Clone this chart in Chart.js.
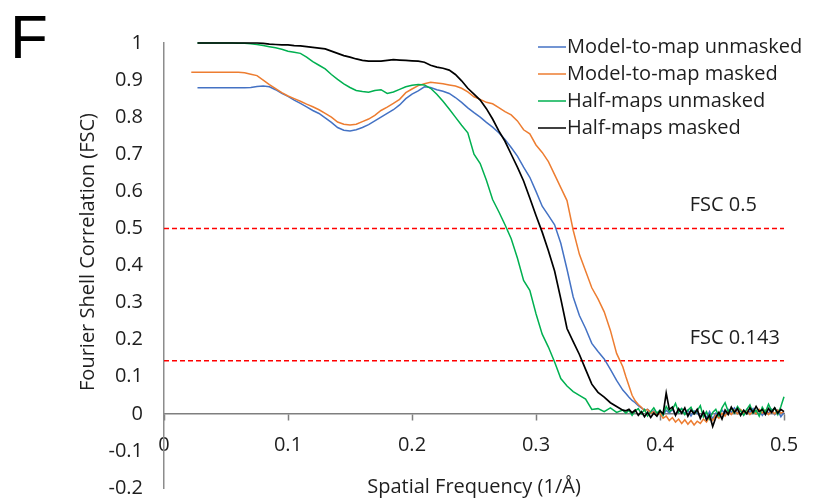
<!DOCTYPE html>
<html><head><meta charset="utf-8">
<script src="https://cdn.jsdelivr.net/npm/chart.js@4.4.0/dist/chart.umd.min.js"></script>
<style>html,body{margin:0;padding:0;background:#fff}#wrap{position:relative;width:823px;height:502px}</style>
</head><body><div id="wrap"><canvas id="c" width="823" height="502"></canvas></div>
<script>
const freq = [0.022, 0.027, 0.030, 0.035, 0.040, 0.045, 0.050, 0.055, 0.060, 0.065,
 0.070, 0.075, 0.080, 0.085, 0.090, 0.095, 0.100, 0.105, 0.110, 0.115,
 0.120, 0.125, 0.130, 0.135, 0.140, 0.145, 0.150, 0.155, 0.160, 0.165,
 0.170, 0.175, 0.180, 0.185, 0.190, 0.195, 0.200, 0.205, 0.210, 0.215,
 0.220, 0.225, 0.230, 0.235, 0.240, 0.245, 0.250, 0.255, 0.260, 0.265,
 0.270, 0.275, 0.280, 0.285, 0.290, 0.295, 0.300, 0.305, 0.310, 0.315,
 0.320, 0.325, 0.330, 0.335, 0.340, 0.345, 0.350, 0.355, 0.360, 0.365,
 0.370,
 0.3725, 0.375, 0.3775, 0.380, 0.3825, 0.385, 0.3875, 0.390, 0.3925, 0.395,
 0.3975, 0.400, 0.4025, 0.405, 0.4075, 0.410, 0.4125, 0.415, 0.4175, 0.420,
 0.4225, 0.425, 0.4275, 0.430, 0.4325, 0.435, 0.4375, 0.440, 0.4425, 0.445,
 0.4475, 0.450, 0.4525, 0.455, 0.4575, 0.460, 0.4625, 0.465, 0.4675, 0.470,
 0.4725, 0.475, 0.4775, 0.480, 0.4825, 0.485, 0.4875, 0.490, 0.4925, 0.495,
 0.4975, 0.500];

const modelUnmasked = [null, 0.879, 0.879, 0.879, 0.879, 0.879, 0.879, 0.879, 0.879, 0.879,
 0.880, 0.883, 0.884, 0.882, 0.874, 0.864, 0.856, 0.846, 0.837, 0.828,
 0.818, 0.810, 0.798, 0.786, 0.772, 0.765, 0.763, 0.766, 0.772, 0.780,
 0.790, 0.800, 0.810, 0.820, 0.833, 0.850, 0.862, 0.871, 0.882, 0.880,
 0.874, 0.870, 0.864, 0.853, 0.840, 0.825, 0.812, 0.800, 0.786, 0.773,
 0.758, 0.740, 0.718, 0.695, 0.665, 0.638, 0.600, 0.560, 0.535, 0.510,
 0.460, 0.390, 0.315, 0.265, 0.230, 0.190, 0.168, 0.148, 0.120, 0.090,
 0.064,
 0.055, 0.045, 0.036, 0.030, 0.022, 0.016, 0.010, 0.012, 0.004, 0.008,
 0.000, 0.006, -0.004, 0.010, 0.002, 0.012, -0.002, 0.008, 0.014, 0.000,
 0.010, -0.006, 0.008, 0.002, -0.008, 0.004, -0.010, 0.006, -0.014, 0.002,
 -0.004, 0.010, 0.000, 0.012, 0.004, 0.016, 0.002, 0.010, -0.002, 0.012,
 0.004, 0.014, 0.000, 0.010, -0.004, 0.008, 0.002, 0.012, -0.002, 0.010,
 -0.008, 0.004];

const modelMasked = [0.921, 0.921, 0.921, 0.921, 0.921, 0.921, 0.921, 0.921, 0.921, 0.920,
 0.916, 0.912, 0.900, 0.888, 0.877, 0.866, 0.857, 0.850, 0.843, 0.835,
 0.828, 0.820, 0.810, 0.800, 0.787, 0.781, 0.779, 0.781, 0.788, 0.795,
 0.805, 0.818, 0.827, 0.837, 0.848, 0.866, 0.876, 0.885, 0.890, 0.894,
 0.892, 0.890, 0.887, 0.884, 0.878, 0.868, 0.855, 0.848, 0.840, 0.836,
 0.826, 0.815, 0.806, 0.790, 0.766, 0.755, 0.725, 0.705, 0.680, 0.645,
 0.610, 0.575, 0.495, 0.430, 0.385, 0.340, 0.310, 0.275, 0.225, 0.163,
 0.127,
 0.100, 0.075, 0.050, 0.035, 0.025, 0.018, 0.008, 0.012, 0.002, 0.006,
 -0.004, 0.002, -0.012, -0.006, -0.018, -0.010, -0.022, -0.014, -0.026, -0.016,
 -0.028, -0.018, -0.030, -0.020, -0.026, -0.014, -0.022, -0.008, -0.018, -0.004,
 -0.012, 0.002, -0.006, 0.008, -0.002, 0.010, 0.000, 0.012, 0.002, 0.010,
 -0.002, 0.008, 0.000, 0.012, 0.002, 0.010, -0.002, 0.008, 0.000, 0.010,
 0.002, 0.006];

const halfUnmasked = [null, 1.000, 1.000, 1.000, 1.000, 1.000, 1.000, 1.000, 0.999, 0.999,
 0.998, 0.996, 0.993, 0.990, 0.987, 0.983, 0.978, 0.975, 0.972, 0.962,
 0.950, 0.940, 0.930, 0.915, 0.902, 0.890, 0.880, 0.872, 0.869, 0.867,
 0.872, 0.874, 0.864, 0.868, 0.875, 0.882, 0.886, 0.888, 0.887, 0.878,
 0.862, 0.843, 0.822, 0.800, 0.778, 0.758, 0.700, 0.675, 0.630, 0.578,
 0.545, 0.510, 0.472, 0.420, 0.360, 0.333, 0.270, 0.215, 0.180, 0.140,
 0.095, 0.075, 0.060, 0.050, 0.040, 0.012, 0.014, 0.006, 0.016, 0.004,
 0.010,
 0.002, 0.010, -0.004, 0.008, 0.014, 0.000, 0.012, -0.006, 0.006, 0.016,
 0.002, 0.010, -0.004, 0.020, 0.006, 0.012, 0.028, 0.004, 0.014, -0.002,
 0.010, 0.018, 0.000, 0.008, 0.022, -0.008, 0.006, -0.014, 0.004, 0.012,
 -0.006, 0.016, 0.030, 0.006, 0.014, 0.002, 0.020, 0.008, -0.004, 0.012,
 0.024, 0.002, 0.010, -0.006, 0.018, 0.004, 0.026, 0.008, 0.016, -0.002,
 0.020, 0.046];

const halfMasked = [null, 1.000, 1.000, 1.000, 1.000, 1.000, 1.000, 1.000, 1.000, 1.000,
 1.000, 1.000, 0.999, 0.997, 0.996, 0.995, 0.995, 0.993, 0.992, 0.990,
 0.988, 0.986, 0.984, 0.978, 0.972, 0.966, 0.962, 0.957, 0.953, 0.951,
 0.951, 0.951, 0.953, 0.955, 0.954, 0.953, 0.952, 0.951, 0.948, 0.940,
 0.935, 0.932, 0.927, 0.915, 0.898, 0.878, 0.862, 0.846, 0.823, 0.795,
 0.763, 0.735, 0.700, 0.665, 0.628, 0.582, 0.535, 0.490, 0.440, 0.385,
 0.310, 0.230, 0.195, 0.160, 0.120, 0.080, 0.058, 0.045, 0.030, 0.020,
 0.010,
 0.008, 0.012, 0.003, 0.010, -0.004, 0.006, -0.008, 0.004, -0.010, 0.002,
 -0.006, 0.008, 0.000, 0.056, 0.012, 0.018, -0.004, 0.014, 0.002, 0.016,
 -0.006, 0.010, 0.000, 0.012, -0.012, 0.006, -0.016, -0.004, -0.034, -0.010,
 0.004, -0.014, 0.010, -0.002, 0.018, 0.004, 0.014, -0.004, 0.010, 0.000,
 0.016, 0.004, 0.020, 0.006, 0.012, -0.002, 0.014, 0.004, 0.016, 0.002,
 0.012, 0.006];

const seriesLabels = ['Model-to-map unmasked', 'Model-to-map masked', 'Half-maps unmasked', 'Half-maps masked'];
const seriesColors = ['#4472C4', '#ED7D31', '#00B050', '#000000'];
const thresholdValues = [0.5, 0.143];
const thresholdLabels = ['FSC 0.5', 'FSC 0.143'];
const xRange = [0, 0.5];
const yRange = [-0.2, 1];

const TEXT = '#1e1e1e';
const FONT = '"Open Sans"';
Chart.defaults.font.family = FONT;
Chart.defaults.font.size = 20;
Chart.defaults.color = TEXT;

function pts(vals) { return freq.map((f, i) => ({x: f, y: vals[i]})); }
const seriesData = [modelUnmasked, modelMasked, halfUnmasked, halfMasked];
const orders = [3, 2, 1, 0];

const datasets = seriesData.map((v, i) => ({
  label: seriesLabels[i], data: pts(v), borderColor: seriesColors[i],
  borderWidth: i === 3 ? 1.7 : 1.5, pointRadius: 0, tension: 0, order: orders[i], clip: false
}));
thresholdValues.forEach((t, i) => datasets.push({
  label: thresholdLabels[i], data: [{x: xRange[0], y: t}, {x: xRange[1], y: t}],
  borderColor: '#FF0000', borderWidth: 1.5, borderDash: [5, 3], pointRadius: 0, order: 10, isThreshold: true
}));

const fmt = v => String(parseFloat(Number(v).toFixed(3)) || 0);

const decor = {
  id: 'decor',
  afterDraw(chart) {
    const ctx = chart.ctx, xs = chart.scales.x, ys = chart.scales.y;
    ctx.save();
    ctx.fillStyle = '#000';
    ctx.font = '62px "Liberation Sans"';
    ctx.textAlign = 'left'; ctx.textBaseline = 'alphabetic';
    ctx.fillText('F', 10, 58);
    ctx.fillStyle = TEXT;
    ctx.font = '20px ' + FONT;
    ctx.save();
    ctx.translate(88, 252);
    ctx.rotate(-Math.PI / 2);
    ctx.textAlign = 'center'; ctx.textBaseline = 'middle';
    ctx.fillText('Fourier Shell Correlation (FSC)', 0, 0);
    ctx.restore();
    ctx.textAlign = 'left'; ctx.textBaseline = 'middle';
    thresholdValues.forEach((t, i) => {
      ctx.fillText(thresholdLabels[i], xs.getPixelForValue(0.424), ys.getPixelForValue(t) - 23);
    });
    const lx = 538, ly = 47, gap = 27;
    chart.data.datasets.filter(d => !d.isThreshold).forEach((d, i) => {
      const y = ly + i * gap;
      ctx.strokeStyle = d.borderColor; ctx.lineWidth = 1.5;
      ctx.beginPath(); ctx.moveTo(lx, y); ctx.lineTo(lx + 28, y); ctx.stroke();
      ctx.fillStyle = TEXT;
      ctx.fillText(d.label, lx + 29, y);
    });
    ctx.restore();
  }
};

new Chart(document.getElementById('c'), {
  type: 'line',
  data: {datasets},
  options: {
    responsive: false, animation: false, devicePixelRatio: 1,
    layout: {padding: {left: 0, right: 39, top: 43, bottom: 14}},
    plugins: {legend: {display: false}, tooltip: {enabled: false}},
    scales: {
      x: {
        type: 'linear', min: xRange[0], max: xRange[1], position: {y: 0},
        ticks: {stepSize: 0.1, padding: 13, maxRotation: 0, color: TEXT, callback: fmt},
        grid: {drawOnChartArea: false, drawTicks: true, tickLength: 6, tickColor: '#7f7f7f', tickWidth: 1.5},
        border: {display: true, color: '#7f7f7f', width: 1.5},
        title: {display: true, text: 'Spatial Frequency (1/Å)', color: TEXT, padding: {top: 5, bottom: 0}}
      },
      y: {
        type: 'linear', min: yRange[0], max: yRange[1],
        ticks: {stepSize: 0.1, padding: 21, color: TEXT, callback: fmt},
        grid: {drawOnChartArea: false, drawTicks: false},
        border: {display: true, color: '#8c8c8c', width: 1.5},
        afterFit(s) { s.width = 164; s.paddingTop = 0; s.paddingBottom = 0; }
      }
    }
  },
  plugins: [decor]
});
</script></body></html>
